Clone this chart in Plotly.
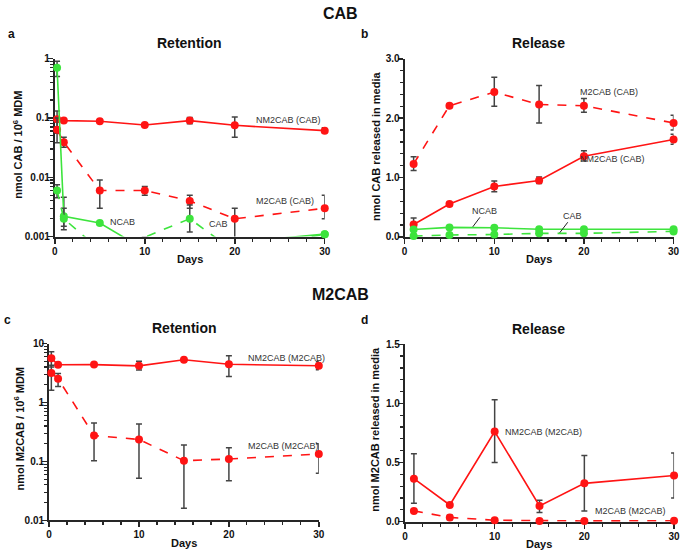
import plotly.graph_objects as go

W, H = 685, 557

# ---------------- data ----------------
# Panel a: CAB retention (nmol CAB / 10^6 MDM), log scale
a_days = [0.25, 1, 5, 10, 15, 20, 30]
a_nm2cab = [0.095, 0.09, 0.088, 0.076, 0.09, 0.075, 0.061]
a_nm2cab_hi = [0.131, 0.095, 0.092, 0.079, 0.102, 0.104, 0.068]
a_nm2cab_lo = [0.055, 0.085, 0.084, 0.073, 0.080, 0.047, 0.056]
a_m2cab = [0.063, 0.039, 0.006, 0.006, 0.004, 0.002, 0.003]
a_m2cab_hi = [0.10, 0.047, 0.009, 0.007, 0.005, 0.003, 0.005]
a_m2cab_lo = [0.038, 0.032, 0.003, 0.005, 0.003, 0.0008, 0.002]
a_ncab = [0.70, 0.0022, 0.0017, 0.0006, 0.0007, 0.0008, 0.0011]
a_ncab_hi = [0.90, 0.0046, 0.0018, 0.0006, 0.0007, 0.0008, 0.0011]
a_ncab_lo = [0.50, 0.0013, 0.0016, 0.0006, 0.0007, 0.0008, 0.0011]
a_cab = [0.006, 0.002, 0.0006, 0.00098, 0.002, 0.00056, 0.0011]
a_cab_hi = [0.0075, 0.003, 0.0006, 0.00098, 0.0034, 0.00056, 0.0011]
a_cab_lo = [0.0045, 0.0015, 0.0006, 0.00098, 0.0012, 0.00056, 0.0011]

# Panel b: CAB release (nmol CAB released in media)
b_days = [1, 5, 10, 15, 20, 30]
b_m2cab = [1.23, 2.21, 2.44, 2.23, 2.21, 1.92]
b_m2cab_hi = [1.35, 2.24, 2.69, 2.55, 2.33, 2.05]
b_m2cab_lo = [1.12, 2.18, 2.20, 1.92, 2.10, 1.80]
b_nm2cab = [0.21, 0.555, 0.85, 0.95, 1.36, 1.64]
b_nm2cab_hi = [0.32, 0.58, 0.94, 1.01, 1.45, 1.73]
b_nm2cab_lo = [0.15, 0.53, 0.76, 0.90, 1.28, 1.56]
b_ncab = [0.126, 0.16, 0.154, 0.13, 0.13, 0.13]
b_cab = [0.016, 0.033, 0.04, 0.06, 0.06, 0.093]
b_cab_hi = [0.02, 0.04, 0.05, 0.07, 0.07, 0.12]
b_cab_lo = [0.012, 0.026, 0.03, 0.05, 0.05, 0.07]

# Panel c: M2CAB retention (nmol M2CAB / 10^6 MDM), log scale
c_days = [0.25, 1, 5, 10, 15, 20, 30]
c_nm2cab = [5.64, 4.36, 4.40, 4.19, 5.30, 4.45, 4.20]
c_nm2cab_hi = [7.3, 4.6, 4.6, 5.0, 5.6, 6.2, 4.9]
c_nm2cab_lo = [4.0, 4.1, 4.2, 3.55, 5.0, 2.75, 3.6]
c_m2cab = [3.16, 2.54, 0.275, 0.236, 0.103, 0.11, 0.134]
c_m2cab_hi = [4.3, 3.1, 0.45, 0.43, 0.19, 0.17, 0.20]
c_m2cab_lo = [1.62, 1.86, 0.103, 0.052, 0.016, 0.047, 0.063]

# Panel d: M2CAB release (nmol M2CAB released in media)
d_days = [1, 5, 10, 15, 20, 30]
d_nm2cab = [0.363, 0.141, 0.762, 0.133, 0.324, 0.39]
d_nm2cab_hi = [0.575, 0.15, 1.03, 0.18, 0.56, 0.58]
d_nm2cab_lo = [0.155, 0.13, 0.50, 0.077, 0.09, 0.20]
d_m2cab = [0.091, 0.036, 0.012, 0.006, 0.006, 0.008]
d_m2cab_hi = [0.10, 0.055, 0.015, 0.008, 0.008, 0.010]
d_m2cab_lo = [0.08, 0.015, 0.009, 0.004, 0.004, 0.006]

x_ticks = [0, 10, 20, 30]

# ---------------- style ----------------
FONT = "Arial, Liberation Sans, sans-serif"
RED = "#ff1414"
GREEN = "#3de43d"
ERR = "#444444"
AX = "#262626"


def px(x):
    return x / W


def py(y):
    return 1 - y / H


fig = go.Figure()


def add_series(xa, ya, xs, ys, hi, lo, color, dash, visible_min=None):
    err = None
    if hi is not None:
        err = dict(type="data", symmetric=False,
                   array=[h - v for h, v in zip(hi, ys)],
                   arrayminus=[v - l for l, v in zip(lo, ys)],
                   color=ERR, thickness=1.5, width=3)
    opac = 1
    if visible_min is not None:
        opac = [1 if v >= visible_min else 0 for v in ys]
    fig.add_trace(go.Scatter(
        x=xs, y=ys, xaxis=xa, yaxis=ya, mode="lines+markers",
        line=dict(color=color, width=1.6, dash=dash),
        marker=dict(color=color, size=8, opacity=opac),
        error_y=err, cliponaxis=False, showlegend=False, hoverinfo="skip"))


# panel a
add_series("x", "y", a_days, a_nm2cab, a_nm2cab_hi, a_nm2cab_lo, RED, "solid")
add_series("x", "y", a_days, a_m2cab, a_m2cab_hi, a_m2cab_lo, RED, "dash", 0.001)
add_series("x", "y", a_days, a_ncab, a_ncab_hi, a_ncab_lo, GREEN, "solid", 0.001)
add_series("x", "y", a_days, a_cab, a_cab_hi, a_cab_lo, GREEN, "dash", 0.001)
# panel b
add_series("x2", "y2", b_days, b_m2cab, b_m2cab_hi, b_m2cab_lo, RED, "dash")
add_series("x2", "y2", b_days, b_nm2cab, b_nm2cab_hi, b_nm2cab_lo, RED, "solid")
add_series("x2", "y2", b_days, b_cab, b_cab_hi, b_cab_lo, GREEN, "dash")
add_series("x2", "y2", b_days, b_ncab, None, None, GREEN, "solid")
# panel c
add_series("x3", "y3", c_days, c_nm2cab, c_nm2cab_hi, c_nm2cab_lo, RED, "solid")
add_series("x3", "y3", c_days, c_m2cab, c_m2cab_hi, c_m2cab_lo, RED, "dash")
# panel d
add_series("x4", "y4", d_days, d_nm2cab, d_nm2cab_hi, d_nm2cab_lo, RED, "solid")
add_series("x4", "y4", d_days, d_m2cab, d_m2cab_hi, d_m2cab_lo, RED, "dash")

tickfont = dict(family=FONT, size=10, color="#111", weight="bold")


def xaxis(dom, anchor):
    return dict(domain=dom, anchor=anchor, range=[0, 30], tickvals=x_ticks,
                showline=True, linecolor=AX, linewidth=2, ticks="outside",
                ticklen=5, tickwidth=1.5, tickcolor=AX, tickfont=tickfont,
                ticklabelstandoff=-1,
                showgrid=False, zeroline=False, layer="below traces",
                minor=dict(ticks="outside", dtick=2, ticklen=3, tickwidth=1.2,
                           tickcolor=AX, showgrid=False))


def yaxis_lin(dom, anchor, rng, dtick, mdtick, fmt):
    return dict(domain=dom, anchor=anchor, range=rng, dtick=dtick, tick0=0,
                tickformat=fmt, showline=True, linecolor=AX, linewidth=2,
                ticks="outside", ticklen=5, tickwidth=1.5, tickcolor=AX,
                tickfont=tickfont, ticklabelstandoff=-4,
                showgrid=False, zeroline=False,
                layer="below traces",
                minor=dict(ticks="outside", dtick=mdtick, ticklen=3,
                           tickwidth=1.2, tickcolor=AX, showgrid=False))


def yaxis_log(dom, anchor, rng, tv, tt):
    return dict(domain=dom, anchor=anchor, type="log", range=rng,
                tickvals=tv, ticktext=tt, showline=True, linecolor=AX,
                linewidth=2, ticks="outside", ticklen=5, tickwidth=1.5,
                tickcolor=AX, tickfont=tickfont, ticklabelstandoff=-4,
                showgrid=False,
                zeroline=False, layer="below traces",
                minor=dict(ticks="outside", dtick="D1", ticklen=3,
                           tickwidth=1.2, tickcolor=AX, showgrid=False))


fig.update_layout(
    width=W, height=H, autosize=False,
    margin=dict(l=0, r=0, t=0, b=0),
    paper_bgcolor="white", plot_bgcolor="white",
    font=dict(family=FONT, color="#111"),
    hovermode=False,
    xaxis=xaxis([px(52.5), px(326)], "y"),
    yaxis=yaxis_log([py(235.7), py(53.7)], "x", [-3, 0],
                    [0.001, 0.01, 0.1, 1], ["0.001", "0.01", "0.1", "1"]),
    xaxis2=xaxis([px(407), px(679.5)], "y2"),
    yaxis2=yaxis_lin([py(236), py(54)], "x2", [0, 3], 1, 0.2, ".1f"),
    xaxis3=xaxis([px(46.7), px(320)], "y3"),
    yaxis3=yaxis_log([py(525.7), py(345)], "x3", [-2, 1],
                     [0.01, 0.1, 1, 10], ["0.01", "0.1", "1", "10"]),
    xaxis4=xaxis([px(407.3), px(680)], "y4"),
    yaxis4=yaxis_lin([py(527), py(345.7)], "x4", [0, 1.5], 0.5, 0.1, ".1f"),
)

ann = []


def txt(x, y, s, size, bold=False, angle=0, xanchor="center", color="#111"):
    ann.append(dict(x=px(x), y=py(y), xref="paper", yref="paper", text=s,
                    showarrow=False, textangle=angle, xanchor=xanchor,
                    yanchor="middle",
                    font=dict(family=FONT, size=size, color=color,
                              weight="bold" if bold else "normal")))


# headers
txt(342, 8, "CAB", 16, True)
txt(342, 295, "M2CAB", 16, True)
# panel letters
txt(9, 29, "a", 12, True)
txt(366, 29, "b", 12, True)
txt(5, 321, "c", 12, True)
txt(366, 321, "d", 12, True)
# subplot titles
txt(189, 38, "Retention", 14, True)
txt(543, 38, "Release", 14, True)
txt(184, 329, "Retention", 14, True)
txt(543, 330, "Release", 14, True)
# axis titles
txt(189, 259, "Days", 11, True)
txt(543, 259, "Days", 11, True)
txt(183, 549, "Days", 11, True)
txt(543, 550, "Days", 11, True)
txt(15, 142, "nmol CAB / 10<sup>6</sup> MDM", 11, True, -90)
txt(378, 144, "nmol CAB released in media", 11, True, -90)
txt(16, 432, "nmol M2CAB / 10<sup>6</sup> MDM", 11, True, -90)
txt(377, 433, "nmol M2CAB released in media", 11, True, -90)
# series labels
lab = "#333"
txt(254, 117, "NM2CAB (CAB)", 9, False, 0, "left", lab)
txt(254, 199, "M2CAB (CAB)", 9, False, 0, "left", lab)
txt(106, 221, "NCAB", 9, False, 0, "left", lab)
txt(207, 223, "CAB", 9, False, 0, "left", lab)
txt(583, 88, "M2CAB (CAB)", 9, False, 0, "left", lab)
txt(583, 156, "NM2CAB (CAB)", 9, False, 0, "left", lab)
txt(246, 360, "NM2CAB (M2CAB)", 9, False, 0, "left", lab)
txt(246, 450, "M2CAB (M2CAB)", 9, False, 0, "left", lab)
txt(507, 435, "NM2CAB (M2CAB)", 9, False, 0, "left", lab)
txt(598, 516, "M2CAB (M2CAB)", 9, False, 0, "left", lab)

# leader-line labels in panel b
ann.append(dict(x=7.6, y=0.17, xref="x2", yref="y2", text="NCAB",
                showarrow=True, arrowhead=0, arrowwidth=1, arrowcolor="#222",
                ax=12, ay=-16, font=dict(family=FONT, size=9, color=lab)))
ann.append(dict(x=17.3, y=0.07, xref="x2", yref="y2", text="CAB",
                showarrow=True, arrowhead=0, arrowwidth=1, arrowcolor="#222",
                ax=13, ay=-17, font=dict(family=FONT, size=9, color=lab)))

fig.update_layout(annotations=ann)

fig.write_html(
    "out.html",
    config={"displayModeBar": False, "staticPlot": True},
    post_script="document.body.style.margin='0px';"
                "document.body.style.overflow='hidden';",
)
